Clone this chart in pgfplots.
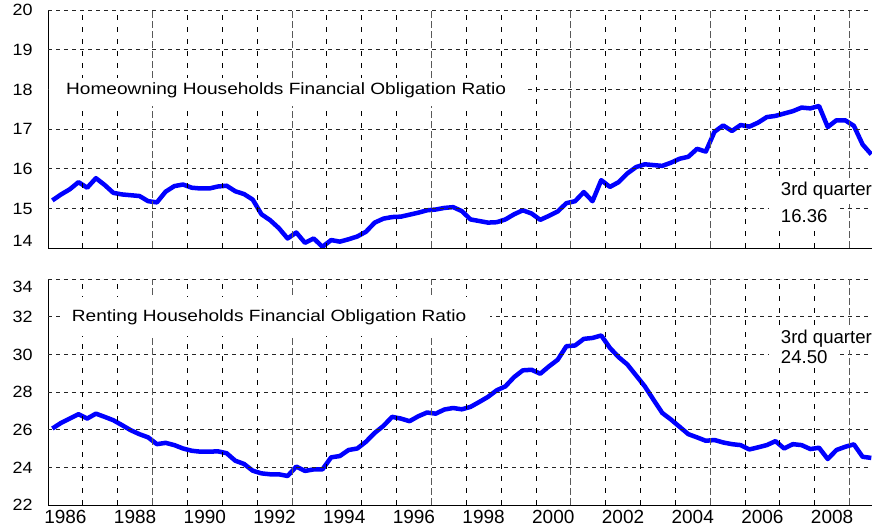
\documentclass[border=0pt]{standalone}
\usepackage{fontspec}
\setmainfont{Liberation Sans}
\newfontfamily\ttlfont{Liberation Sans}[FakeStretch=1.17]
\newfontfamily\ytfont{Liberation Sans}[FakeStretch=1.1]
\usepackage{pgfplots}
\usepackage{pgfplotstable}
\pgfplotsset{compat=1.18}

\pgfplotstableread{
i home rent
0 15.20 26.06
1 15.35 26.36
2 15.48 26.59
3 15.66 26.82
4 15.52 26.59
5 15.76 26.85
6 15.59 26.68
7 15.39 26.50
8 15.35 26.24
9 15.33 25.97
10 15.31 25.76
11 15.18 25.59
12 15.15 25.23
13 15.42 25.30
14 15.56 25.18
15 15.60 25.00
16 15.52 24.88
17 15.50 24.83
18 15.50 24.83
19 15.55 24.85
20 15.57 24.75
21 15.43 24.35
22 15.36 24.18
23 15.22 23.82
24 14.85 23.68
25 14.70 23.63
26 14.50 23.63
27 14.24 23.54
28 14.39 24.04
29 14.13 23.81
30 14.24 23.89
31 14.03 23.89
32 14.20 24.53
33 14.16 24.60
34 14.22 24.92
35 14.29 25.00
36 14.41 25.36
37 14.64 25.83
38 14.74 26.20
39 14.78 26.68
40 14.79 26.59
41 14.84 26.45
42 14.89 26.71
43 14.95 26.91
44 14.97 26.85
45 15.01 27.07
46 15.03 27.15
47 14.93 27.08
48 14.72 27.21
49 14.68 27.47
50 14.64 27.74
51 14.65 28.09
52 14.72 28.30
53 14.85 28.79
54 14.95 29.15
55 14.87 29.18
56 14.71 28.97
57 14.81 29.36
58 14.92 29.71
59 15.13 30.43
60 15.18 30.47
61 15.41 30.82
62 15.18 30.87
63 15.71 31.00
64 15.54 30.34
65 15.66 29.85
66 15.88 29.46
67 16.04 28.88
68 16.11 28.30
69 16.09 27.59
70 16.07 26.89
71 16.15 26.54
72 16.25 26.15
73 16.30 25.76
74 16.50 25.59
75 16.43 25.41
76 16.93 25.45
77 17.09 25.32
78 16.95 25.23
79 17.10 25.18
80 17.06 24.95
81 17.16 25.06
82 17.30 25.18
83 17.33 25.39
84 17.39 25.00
85 17.45 25.23
86 17.54 25.18
87 17.52 24.97
88 17.58 25.04
89 17.05 24.44
90 17.22 24.92
91 17.22 25.09
92 17.08 25.22
93 16.61 24.56
94 16.36 24.50
}\datatab

\definecolor{lineblue}{RGB}{0,0,255}

\tikzset{
  hgrid/.style={black!85, line width=0.8pt, dash pattern=on 4pt off 4pt},
  vgrid/.style={black, line width=0.8pt, dash pattern=on 5pt off 7pt},
  vgridmaj/.style={black!65, line width=0.9pt, dash pattern=on 7pt off 3pt},
}

\pgfplotsset{
  panel/.style={
    scale only axis, width=824pt, anchor=south west,
    xmin=-0.5, xmax=94.08,
    axis lines=left, axis line style={-, line width=0.9pt, black},
    tick style={draw=none},
    xtick={1.5,9.5,17.5,25.5,33.5,41.5,49.5,57.5,65.5,73.5,81.5,89.5},
    yticklabel style={font=\ytfont\fontsize{16.3pt}{16.3pt}\selectfont, anchor=base east, inner sep=0pt, xshift=-13pt, yshift=-5.8pt},
    xticklabel style={font=\fontsize{19pt}{19pt}\selectfont, anchor=north, inner sep=0pt, yshift=-3pt},
    every axis plot/.append style={lineblue, line width=4.5pt, line join=round, no marks},
  }
}

\begin{document}
\begin{tikzpicture}
\begin{axis}[panel, at={(48pt,278pt)}, height=238pt,
  ymin=14, ymax=20, ytick={14,15,16,17,18,19,20},
  yticklabels={\raisebox{7pt}{14},15,16,17,18,19,20},
  xticklabels={}]
\addplot table[x=i, y=home] {\datatab};
\end{axis}
\begin{axis}[panel, at={(48pt,21pt)}, height=226pt,
  ymin=22, ymax=34, ytick={22,24,26,28,30,32,34},
  yticklabels={22,24,26,28,30,32,\raisebox{-8pt}{34}},
  xticklabels={1986,1988,1990,1992,1994,1996,1998,2000,2002,2004,2006,2008}]
\addplot table[x=i, y=rent] {\datatab};
\end{axis}
% grid lines, picture coordinates (1pt = 1px)
\draw[hgrid] (48pt,317.67pt) -- (872pt,317.67pt) (48pt,357.33pt) -- (872pt,357.33pt)
  (48pt,397pt) -- (872pt,397pt) (48pt,436.67pt) -- (872pt,436.67pt)
  (48pt,476.33pt) -- (872pt,476.33pt) (48pt,516pt) -- (872pt,516pt)
  (48pt,58.67pt) -- (872pt,58.67pt) (48pt,96.33pt) -- (872pt,96.33pt)
  (48pt,134pt) -- (872pt,134pt) (48pt,171.67pt) -- (872pt,171.67pt)
  (48pt,209.33pt) -- (872pt,209.33pt) (48pt,247pt) -- (872pt,247pt);
\draw[vgrid] (82.85pt,278pt) -- (82.85pt,516pt) (117.7pt,278pt) -- (117.7pt,516pt)
  (187.4pt,278pt) -- (187.4pt,516pt) (222.25pt,278pt) -- (222.25pt,516pt)
  (257.1pt,278pt) -- (257.1pt,516pt) (326.8pt,278pt) -- (326.8pt,516pt)
  (361.65pt,278pt) -- (361.65pt,516pt) (396.5pt,278pt) -- (396.5pt,516pt)
  (466.2pt,278pt) -- (466.2pt,516pt) (501.05pt,278pt) -- (501.05pt,516pt)
  (535.9pt,278pt) -- (535.9pt,516pt) (605.6pt,278pt) -- (605.6pt,516pt)
  (640.45pt,278pt) -- (640.45pt,516pt) (675.3pt,278pt) -- (675.3pt,516pt)
  (745pt,278pt) -- (745pt,516pt) (779.85pt,278pt) -- (779.85pt,516pt)
  (814.7pt,278pt) -- (814.7pt,516pt)
  (82.85pt,21pt) -- (82.85pt,247pt) (117.7pt,21pt) -- (117.7pt,247pt)
  (187.4pt,21pt) -- (187.4pt,247pt) (222.25pt,21pt) -- (222.25pt,247pt)
  (257.1pt,21pt) -- (257.1pt,247pt) (326.8pt,21pt) -- (326.8pt,247pt)
  (361.65pt,21pt) -- (361.65pt,247pt) (396.5pt,21pt) -- (396.5pt,247pt)
  (466.2pt,21pt) -- (466.2pt,247pt) (501.05pt,21pt) -- (501.05pt,247pt)
  (535.9pt,21pt) -- (535.9pt,247pt) (605.6pt,21pt) -- (605.6pt,247pt)
  (640.45pt,21pt) -- (640.45pt,247pt) (675.3pt,21pt) -- (675.3pt,247pt)
  (745pt,21pt) -- (745pt,247pt) (779.85pt,21pt) -- (779.85pt,247pt)
  (814.7pt,21pt) -- (814.7pt,247pt);
\draw[vgridmaj] (152.55pt,278pt) -- (152.55pt,516pt) (291.95pt,278pt) -- (291.95pt,516pt)
  (431.35pt,278pt) -- (431.35pt,516pt) (570.75pt,278pt) -- (570.75pt,516pt)
  (710.15pt,278pt) -- (710.15pt,516pt) (849.55pt,278pt) -- (849.55pt,516pt)
  (152.55pt,21pt) -- (152.55pt,247pt) (291.95pt,21pt) -- (291.95pt,247pt)
  (431.35pt,21pt) -- (431.35pt,247pt) (570.75pt,21pt) -- (570.75pt,247pt)
  (710.15pt,21pt) -- (710.15pt,247pt) (849.55pt,21pt) -- (849.55pt,247pt);
% text boxes
\fill[white] (48.8pt,420pt) rectangle (528pt,448pt);
\node[anchor=base west, inner sep=0pt, font=\ttlfont\fontsize{16.3pt}{16.3pt}\selectfont] at (66pt,431pt) {Homeowning Households Financial Obligation Ratio};
\fill[white] (61pt,190pt) rectangle (490pt,229pt);
\node[anchor=base west, inner sep=0pt, font=\ttlfont\fontsize{16.3pt}{16.3pt}\selectfont] at (71.7pt,204.3pt) {Renting Households Financial Obligation Ratio};
\node[anchor=base west, fill=white, inner xsep=12pt, inner ysep=4pt, font=\fontsize{18.6pt}{18.6pt}\selectfont] at (768.7pt,330.3pt) {3rd quarter};
\node[anchor=base west, fill=white, inner xsep=12pt, inner ysep=4pt, font=\fontsize{18.6pt}{18.6pt}\selectfont] at (768.7pt,303.3pt) {16.36};
\node[anchor=base west, fill=white, inner xsep=12pt, inner ysep=2pt, font=\fontsize{18.6pt}{18.6pt}\selectfont] at (768.7pt,182.3pt) {3rd quarter};
\node[anchor=base west, fill=white, inner xsep=12pt, inner ysep=2pt, font=\fontsize{18.6pt}{18.6pt}\selectfont] at (768.7pt,162.3pt) {24.50};
\pgfresetboundingbox
\path (0,0) rectangle (872pt,526pt);
\end{tikzpicture}
\end{document}
